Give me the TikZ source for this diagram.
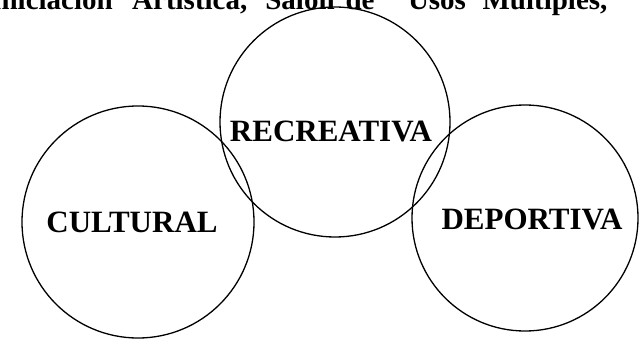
\documentclass[tikz,border=0pt]{standalone}
\usepackage{fontspec}
\setmainfont{Liberation Serif}
\begin{document}
\begin{tikzpicture}[x=1pt,y=-1pt,
  ring/.style={draw=black,line width=1.3pt,circle,inner sep=0pt},
  lbl/.style={font=\fontsize{31}{36}\selectfont\bfseries,inner sep=0pt,anchor=base},
  body/.style={font=\fontsize{29}{34}\selectfont\bfseries,inner sep=0pt,anchor=base}]
\useasboundingbox (0,0) rectangle (639,339);
\clip (0,0) rectangle (639,339);
% cut-off line of text at the top
\node[body,anchor=base east] (w1) at (113,9.5) {Iniciación};
\node[body,anchor=base west] (w2) at (132,9.5) {Artística,};
\node[body] (w3) at (300,9.5) {Salón};
\node[body] (w4) at (360,9.5) {de};
\node[body] (w5) at (437,9.5) {Usos};
\node[body] (w6) at (545,9.5) {Múltiples,};
% circles
\node[ring,minimum size=230pt] (rec) at (335,122) {};
\node[ring,minimum size=232pt] (cul) at (138,222) {};
\node[ring,minimum size=226pt] (dep) at (525,218) {};
% labels
\node[lbl] (trec) at (331,142) {RECREATIVA};
\node[lbl] (tcul) at (132,232) {CULTURAL};
\node[lbl] (tdep) at (532,229) {DEPORTIVA};
\end{tikzpicture}
\end{document}
